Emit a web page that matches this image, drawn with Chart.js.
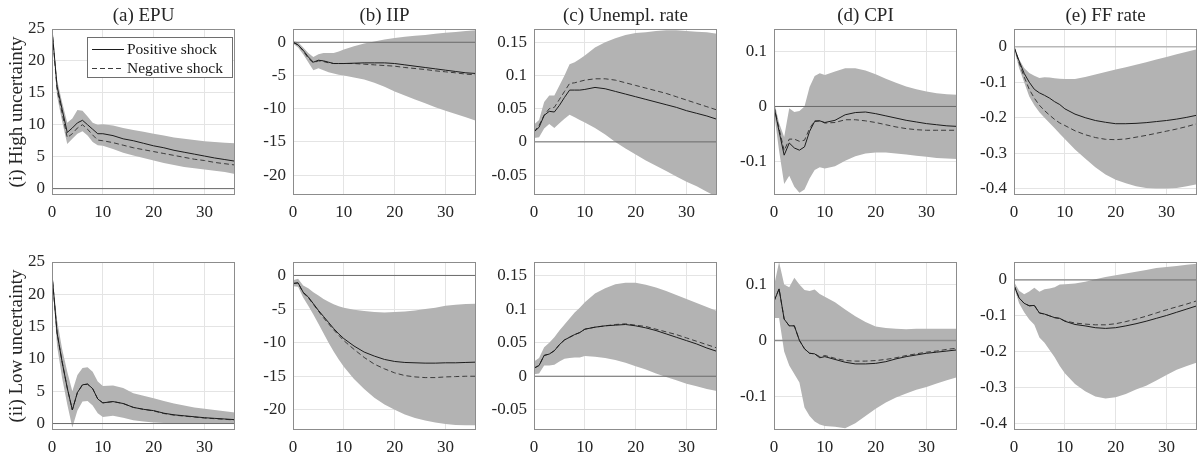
<!DOCTYPE html>
<html>
<head>
<meta charset="utf-8">
<script src="https://cdn.jsdelivr.net/npm/chart.js@4.4.0/dist/chart.umd.min.js"></script>
<style>
  body { margin: 0; background: #fff; }
  #fig { position: relative; width: 1198px; height: 458px; overflow: hidden; }
  #fig canvas { position: absolute; }
</style>
</head>
<body>
<div id="fig"></div>
<script>
// horizon in months (same grid for every panel)
const months = [0, 1, 2, 3, 4, 5, 6, 7, 8, 9, 10, 12, 14, 16, 18, 20, 22, 24, 26, 28, 30, 32, 34, 36];
const xTicks = [0, 10, 20, 30];

const seriesNames = ['Positive shock', 'Negative shock'];
const panelTitles = ['(a) EPU', '(b) IIP', '(c) Unempl. rate', '(d) CPI', '(e) FF rate'];
const rowLabels = ['(i) High uncertainty', '(ii) Low uncertainty'];

// y ticks per variable
const epuTicks = [0, 5, 10, 15, 20, 25];
const iipTicks = [-20, -15, -10, -5, 0];
const unTicks = [-0.05, 0, 0.05, 0.1, 0.15];
const cpiTicks = [-0.1, 0, 0.1];
const ffTicks = [-0.4, -0.3, -0.2, -0.1, 0];

// (i) high uncertainty
const epuHighPos = [25, 16, 12.4, 8.8, 9.5, 10.3, 10.7, 10.0, 9.3, 8.6, 8.6, 8.3, 7.8, 7.5, 7.1, 6.7, 6.4, 6.0, 5.7, 5.4, 5.1, 4.8, 4.55, 4.3];
const epuHighNeg = [25, 15.5, 11.8, 8.0, 8.6, 9.5, 10.0, 9.3, 8.4, 7.6, 7.5, 7.2, 6.8, 6.4, 6.1, 5.8, 5.5, 5.2, 4.9, 4.6, 4.4, 4.1, 3.9, 3.7];
const epuHighUp = [25, 17, 13.5, 10.3, 11.0, 12.3, 12.2, 11.3, 10.3, 10.0, 10.1, 9.9, 9.5, 9.2, 8.9, 8.6, 8.3, 8.0, 7.8, 7.6, 7.4, 7.3, 7.2, 7.1];
const epuHighLo = [25, 14.5, 10.5, 7.0, 7.8, 8.6, 9.0, 8.3, 7.3, 6.8, 6.7, 6.2, 5.6, 5.2, 4.8, 4.4, 4.0, 3.7, 3.4, 3.2, 3.0, 2.8, 2.6, 2.3];

const iipHighPos = [0, -0.4, -1.2, -2.2, -3.0, -2.7, -2.8, -3.0, -3.2, -3.2, -3.2, -3.15, -3.1, -3.1, -3.1, -3.2, -3.4, -3.6, -3.8, -4.0, -4.2, -4.4, -4.6, -4.7];
const iipHighNeg = [0, -0.4, -1.3, -2.4, -3.1, -2.8, -2.9, -3.1, -3.2, -3.2, -3.2, -3.2, -3.3, -3.4, -3.5, -3.6, -3.8, -3.95, -4.1, -4.3, -4.45, -4.6, -4.8, -4.9];
const iipHighUp = [0.2, 0, -0.8, -1.6, -2.2, -1.8, -1.6, -1.6, -1.6, -1.4, -1.1, -0.6, -0.2, 0.1, 0.4, 0.65, 0.85, 1.0, 1.1, 1.3, 1.45, 1.55, 1.7, 1.8];
const iipHighLo = [-0.2, -0.8, -1.8, -3.0, -4.2, -3.9, -4.2, -4.5, -4.7, -4.9, -5.0, -5.3, -5.6, -6.1, -6.7, -7.4, -8.0, -8.6, -9.2, -9.8, -10.3, -10.8, -11.3, -11.8];

const unHighPos = [0.015, 0.022, 0.04, 0.046, 0.045, 0.055, 0.067, 0.078, 0.078, 0.078, 0.079, 0.082, 0.08, 0.076, 0.072, 0.068, 0.064, 0.06, 0.056, 0.052, 0.047, 0.043, 0.039, 0.034];
const unHighNeg = [0.015, 0.025, 0.04, 0.05, 0.052, 0.064, 0.076, 0.088, 0.089, 0.091, 0.093, 0.095, 0.095, 0.093, 0.089, 0.085, 0.081, 0.077, 0.073, 0.068, 0.063, 0.058, 0.053, 0.048];
const unHighUp = [0.026, 0.033, 0.06, 0.07, 0.07, 0.085, 0.1, 0.117, 0.12, 0.125, 0.13, 0.142, 0.15, 0.156, 0.161, 0.164, 0.165, 0.167, 0.168, 0.168, 0.167, 0.166, 0.165, 0.163];
const unHighLo = [0.006, 0.007, 0.02, 0.027, 0.021, 0.028, 0.035, 0.041, 0.037, 0.033, 0.029, 0.021, 0.011, 0.0, -0.01, -0.019, -0.028, -0.036, -0.044, -0.052, -0.06, -0.067, -0.075, -0.083];

const cpiHighPos = [0, -0.045, -0.088, -0.066, -0.075, -0.079, -0.073, -0.045, -0.027, -0.026, -0.029, -0.025, -0.015, -0.011, -0.010, -0.013, -0.017, -0.021, -0.025, -0.028, -0.031, -0.033, -0.035, -0.036];
const cpiHighNeg = [0, -0.04, -0.08, -0.059, -0.059, -0.063, -0.061, -0.04, -0.026, -0.026, -0.03, -0.029, -0.024, -0.024, -0.026, -0.029, -0.033, -0.037, -0.04, -0.042, -0.043, -0.043, -0.043, -0.043];
const cpiHighUp = [0.01, -0.03, -0.055, -0.003, -0.01, -0.008, 0.0, 0.035, 0.055, 0.06, 0.057, 0.063, 0.069, 0.069, 0.065, 0.058, 0.05, 0.043, 0.036, 0.031, 0.027, 0.024, 0.022, 0.021];
const cpiHighLo = [-0.01, -0.08, -0.14, -0.125, -0.145, -0.156, -0.15, -0.13, -0.115, -0.11, -0.112, -0.108, -0.098, -0.09, -0.085, -0.083, -0.083, -0.085, -0.087, -0.089, -0.091, -0.093, -0.094, -0.095];

const ffHighPos = [0, -0.04, -0.075, -0.1, -0.12, -0.13, -0.137, -0.145, -0.155, -0.163, -0.175, -0.19, -0.2, -0.208, -0.213, -0.217, -0.217, -0.216, -0.214, -0.211, -0.208, -0.204, -0.199, -0.193];
const ffHighNeg = [0, -0.045, -0.085, -0.12, -0.145, -0.165, -0.18, -0.193, -0.205, -0.215, -0.222, -0.237, -0.248, -0.256, -0.261, -0.262, -0.26, -0.255, -0.25, -0.244, -0.238, -0.232, -0.225, -0.217];
const ffHighUp = [0, -0.035, -0.06, -0.074, -0.082, -0.088, -0.086, -0.087, -0.089, -0.09, -0.091, -0.091, -0.085, -0.078, -0.071, -0.064, -0.058, -0.051, -0.044, -0.036, -0.029, -0.021, -0.014, -0.007];
const ffHighLo = [-0.005, -0.06, -0.1, -0.14, -0.165, -0.185, -0.2, -0.215, -0.23, -0.245, -0.26, -0.29, -0.315, -0.34, -0.36, -0.375, -0.385, -0.393, -0.398, -0.4, -0.4, -0.398, -0.393, -0.388];

// (ii) low uncertainty
const epuLowPos = [23.2, 14, 9.5, 5.5, 2.1, 4.8, 6.0, 6.1, 5.4, 3.8, 3.2, 3.4, 3.1, 2.5, 2.2, 2.0, 1.6, 1.35, 1.2, 1.05, 0.9, 0.8, 0.7, 0.6];
const epuLowNeg = [23.2, 14, 9.5, 5.5, 2.1, 4.8, 6.0, 6.1, 5.4, 3.8, 3.2, 3.4, 3.1, 2.5, 2.2, 1.95, 1.55, 1.3, 1.15, 1.0, 0.85, 0.75, 0.65, 0.55];
const epuLowUp = [23.3, 16, 11.5, 8, 5.0, 7.5, 8.6, 8.7, 8.0, 6.5, 5.8, 5.9, 5.5, 4.7, 4.3, 3.9, 3.5, 3.1, 2.8, 2.5, 2.3, 2.1, 1.9, 1.7];
const epuLowLo = [23, 12, 7, 3, -0.6, 2.0, 3.4, 3.5, 2.8, 1.6, 1.0, 1.2, 0.9, 0.5, 0.3, 0.15, 0.1, 0.05, 0.03, 0.02, 0.01, 0.0, 0.0, 0.0];

const iipLowPos = [-1.2, -1.1, -2.5, -3.2, -4.2, -5.2, -6.1, -7.0, -7.9, -8.7, -9.4, -10.5, -11.4, -12.0, -12.5, -12.8, -12.95, -13.0, -13.05, -13.05, -13.0, -13.0, -12.95, -12.9];
const iipLowNeg = [-1.2, -1.1, -2.6, -3.3, -4.3, -5.3, -6.3, -7.2, -8.1, -8.9, -9.7, -11.0, -12.2, -13.2, -13.9, -14.5, -14.9, -15.1, -15.2, -15.2, -15.1, -15.05, -15.0, -15.0];
const iipLowUp = [-0.7, -0.5, -1.5, -1.9, -2.5, -3.0, -3.5, -3.9, -4.3, -4.6, -4.8, -5.1, -5.3, -5.45, -5.5, -5.45, -5.35, -5.2, -5.0, -4.8, -4.5, -4.35, -4.25, -4.2];
const iipLowLo = [-1.6, -1.7, -3.3, -4.5, -5.8, -7.2, -8.6, -10.0, -11.3, -12.5, -13.6, -15.4, -16.9, -18.2, -19.2, -20.0, -20.7, -21.2, -21.6, -21.9, -22.1, -22.25, -22.3, -22.3];

const unLowPos = [0.012, 0.016, 0.031, 0.033, 0.038, 0.047, 0.054, 0.058, 0.062, 0.065, 0.07, 0.073, 0.075, 0.076, 0.077, 0.075, 0.072, 0.068, 0.063, 0.058, 0.053, 0.048, 0.042, 0.037];
const unLowNeg = [0.012, 0.016, 0.031, 0.033, 0.038, 0.047, 0.054, 0.058, 0.062, 0.065, 0.07, 0.073, 0.075, 0.077, 0.078, 0.076, 0.074, 0.070, 0.066, 0.062, 0.057, 0.052, 0.047, 0.042];
const unLowUp = [0.022, 0.027, 0.043, 0.05, 0.058, 0.068, 0.077, 0.086, 0.095, 0.102, 0.11, 0.123, 0.131, 0.137, 0.139, 0.139, 0.136, 0.132, 0.127, 0.121, 0.115, 0.109, 0.103, 0.097];
const unLowLo = [0.003, 0.004, 0.016, 0.016, 0.017, 0.022, 0.026, 0.027, 0.028, 0.028, 0.03, 0.029, 0.027, 0.024, 0.02, 0.015, 0.01, 0.004, -0.001, -0.006, -0.011, -0.015, -0.019, -0.022];

const cpiLowPos = [0.07, 0.092, 0.038, 0.026, 0.026, 0.0, -0.015, -0.023, -0.024, -0.031, -0.029, -0.034, -0.039, -0.042, -0.042, -0.041, -0.038, -0.033, -0.029, -0.026, -0.023, -0.021, -0.019, -0.017];
const cpiLowNeg = [0.07, 0.092, 0.038, 0.026, 0.026, 0.0, -0.015, -0.023, -0.024, -0.029, -0.027, -0.032, -0.036, -0.037, -0.037, -0.036, -0.034, -0.031, -0.027, -0.024, -0.021, -0.019, -0.016, -0.014];
const cpiLowUp = [0.097, 0.14, 0.1, 0.095, 0.112, 0.1, 0.09, 0.088, 0.091, 0.083, 0.078, 0.068, 0.055, 0.043, 0.033, 0.025, 0.022, 0.021, 0.02, 0.021, 0.021, 0.021, 0.021, 0.021];
const cpiLowLo = [0.04, 0.04, -0.02, -0.045, -0.06, -0.075, -0.12, -0.135, -0.145, -0.15, -0.153, -0.154, -0.157, -0.148, -0.135, -0.122, -0.111, -0.102, -0.095, -0.088, -0.083, -0.077, -0.071, -0.066];

const ffLowPos = [-0.015, -0.05, -0.065, -0.072, -0.071, -0.092, -0.095, -0.1, -0.105, -0.107, -0.115, -0.124, -0.128, -0.133, -0.135, -0.133, -0.128, -0.122, -0.115, -0.107, -0.099, -0.09, -0.081, -0.072];
const ffLowNeg = [-0.015, -0.05, -0.065, -0.072, -0.071, -0.092, -0.095, -0.1, -0.105, -0.107, -0.114, -0.12, -0.123, -0.125, -0.125, -0.122, -0.116, -0.109, -0.101, -0.092, -0.083, -0.075, -0.067, -0.058];
const ffLowUp = [-0.005, -0.03, -0.04, -0.032, -0.022, -0.033, -0.026, -0.024, -0.02, -0.013, -0.012, -0.01, -0.005, 0.002, 0.008, 0.013, 0.018, 0.023, 0.028, 0.033, 0.036, 0.039, 0.042, 0.045];
const ffLowLo = [-0.02, -0.065, -0.09, -0.11, -0.125, -0.16, -0.175, -0.195, -0.215, -0.24, -0.26, -0.29, -0.31, -0.325, -0.33, -0.327, -0.318, -0.305, -0.295, -0.28, -0.265, -0.25, -0.24, -0.23];

const FONT = "'Liberation Serif', 'Times New Roman', serif";
const TEXT = '#262626';
const BAND = '#b3b3b3';

// layout: plot-area left edge of each column
const colLeft = [52, 293, 534, 774, 1014];
const plotW = 183;
const yAxisW = 52;

// box around the plot area
const boxPlugin = {
  id: 'boxPlugin',
  afterDatasetsDraw(chart) {
    const a = chart.chartArea, ctx = chart.ctx;
    ctx.save();
    ctx.strokeStyle = '#8c8c8c';
    ctx.lineWidth = 1;
    ctx.strokeRect(a.left + 0.5, a.top + 0.5, a.right - a.left - 1, a.bottom - a.top - 1);
    ctx.restore();
  }
};

// matlab style legend in the upper right corner
const legendPlugin = {
  id: 'legendPlugin',
  afterDraw(chart) {
    const a = chart.chartArea, ctx = chart.ctx;
    const w = 145, h = 40;
    const x = a.right - 3 - w, y = a.top + 8;
    ctx.save();
    ctx.fillStyle = '#fff';
    ctx.fillRect(x, y, w, h);
    ctx.strokeStyle = '#6e6e6e';
    ctx.lineWidth = 1;
    ctx.strokeRect(x + 0.5, y + 0.5, w, h);
    ctx.font = '15.5px ' + FONT;
    ctx.textBaseline = 'middle';
    ctx.fillStyle = '#1a1a1a';
    const rows = [y + 12, y + 31];
    chart.data.datasets.slice(0, 2).forEach((ds, i) => {
      ctx.beginPath();
      ctx.strokeStyle = ds.borderColor;
      ctx.setLineDash(ds.borderDash || []);
      ctx.moveTo(x + 5, rows[i] + 0.5);
      ctx.lineTo(x + 37, rows[i] + 0.5);
      ctx.stroke();
      ctx.setLineDash([]);
      ctx.fillText(ds.label, x + 40, rows[i] + 1);
    });
    ctx.restore();
  }
};

function xy(vals) {
  return vals.map((v, i) => ({x: months[i], y: v}));
}

function fmt(v) {
  return String(Math.round(v * 1000) / 1000);
}

function makePanel(row, col, p) {
  const canvas = document.createElement('canvas');
  const left = colLeft[col] - yAxisW;
  const top = row === 0 ? 0 : 233;
  const xh = row === 0 ? 29 : 28;
  const plotH = row === 0 ? 166 : 168;
  canvas.width = yAxisW + plotW + 1;
  canvas.height = 29 + plotH + xh;
  canvas.style.left = left + 'px';
  canvas.style.top = top + 'px';
  document.getElementById('fig').appendChild(canvas);

  const plugins = [boxPlugin];
  if (row === 0 && col === 0) plugins.push(legendPlugin);

  new Chart(canvas, {
    type: 'line',
    data: {
      datasets: [
        {label: seriesNames[0], data: xy(p.pos), borderColor: '#1c1c1c', borderWidth: 1, pointRadius: 0, fill: false, order: 0},
        {label: seriesNames[1], data: xy(p.neg), borderColor: '#3c3c3c', borderWidth: 1, borderDash: [5, 3], pointRadius: 0, fill: false, order: 0},
        {label: 'zero', data: [{x: months[0], y: 0}, {x: months[months.length - 1], y: 0}],
          borderColor: p.zeroColor || '#6a6a6a', borderWidth: p.zeroWidth || 1, pointRadius: 0, fill: false, order: 1},
        {label: 'upper', data: xy(p.up), borderColor: 'rgba(0,0,0,0)', borderWidth: 0, pointRadius: 0,
          fill: '+1', backgroundColor: BAND, order: 2},
        {label: 'lower', data: xy(p.lo), borderColor: 'rgba(0,0,0,0)', borderWidth: 0, pointRadius: 0, fill: false, order: 3}
      ]
    },
    options: {
      responsive: false,
      animation: false,
      events: [],
      layout: {padding: {top: row === 0 ? 0 : 29, right: 1, left: 0, bottom: 0}},
      elements: {line: {tension: 0}},
      plugins: {
        legend: {display: false},
        tooltip: {enabled: false},
        title: {
          display: row === 0,
          fullSize: false,
          text: panelTitles[col],
          color: TEXT,
          font: {family: FONT, size: 19, weight: 'normal', lineHeight: '22px'},
          padding: {top: 5, bottom: 2}
        }
      },
      scales: {
        x: {
          type: 'linear', min: 0, max: 36,
          afterBuildTicks: s => { s.ticks = xTicks.map(v => ({value: v})); },
          afterFit: s => { s.height = xh; },
          grid: {color: '#e4e4e4', drawTicks: false},
          border: {display: false},
          ticks: {padding: 7, color: TEXT, font: {family: FONT, size: 17}, maxRotation: 0, autoSkip: false}
        },
        y: {
          min: p.min, max: p.max,
          afterBuildTicks: s => { s.ticks = p.ticks.map(v => ({value: v})); },
          afterFit: s => { s.width = yAxisW; },
          grid: {color: '#e4e4e4', drawTicks: false},
          border: {display: false},
          ticks: {padding: 7, color: TEXT, font: {family: FONT, size: 17}, autoSkip: false, callback: fmt},
          title: {
            display: col === 0,
            text: rowLabels[row],
            color: TEXT,
            font: {family: FONT, size: 19},
            padding: {top: 6, bottom: 0}
          }
        }
      }
    },
    plugins: plugins
  });
}

const highPanels = [
  {pos: epuHighPos, neg: epuHighNeg, up: epuHighUp, lo: epuHighLo, min: -1, max: 25, ticks: epuTicks},
  {pos: iipHighPos, neg: iipHighNeg, up: iipHighUp, lo: iipHighLo, min: -23, max: 2, ticks: iipTicks},
  {pos: unHighPos, neg: unHighNeg, up: unHighUp, lo: unHighLo, min: -0.08, max: 0.17, ticks: unTicks},
  {pos: cpiHighPos, neg: cpiHighNeg, up: cpiHighUp, lo: cpiHighLo, min: -0.16, max: 0.14, ticks: cpiTicks},
  {pos: ffHighPos, neg: ffHighNeg, up: ffHighUp, lo: ffHighLo, min: -0.418, max: 0.05, ticks: ffTicks, zeroColor: '#b8b8b8', zeroWidth: 1.5}
];
const lowPanels = [
  {pos: epuLowPos, neg: epuLowNeg, up: epuLowUp, lo: epuLowLo, min: -1, max: 25, ticks: epuTicks},
  {pos: iipLowPos, neg: iipLowNeg, up: iipLowUp, lo: iipLowLo, min: -23, max: 2, ticks: iipTicks},
  {pos: unLowPos, neg: unLowNeg, up: unLowUp, lo: unLowLo, min: -0.08, max: 0.17, ticks: unTicks},
  {pos: cpiLowPos, neg: cpiLowNeg, up: cpiLowUp, lo: cpiLowLo, min: -0.16, max: 0.14, ticks: cpiTicks, zeroColor: '#8a8a8a', zeroWidth: 1.5},
  {pos: ffLowPos, neg: ffLowNeg, up: ffLowUp, lo: ffLowLo, min: -0.418, max: 0.05, ticks: ffTicks}
];

highPanels.forEach((p, i) => makePanel(0, i, p));
lowPanels.forEach((p, i) => makePanel(1, i, p));
</script>
</body>
</html>
